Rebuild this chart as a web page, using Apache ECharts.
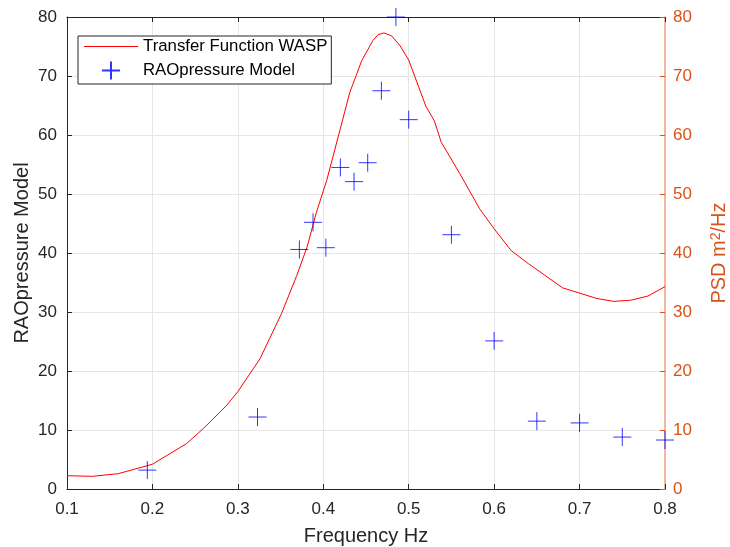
<!DOCTYPE html>
<html>
<head>
<meta charset="utf-8">
<script src="https://cdn.jsdelivr.net/npm/echarts@6/dist/echarts.min.js"></script>
<style>
  html, body { margin: 0; padding: 0; background: #fff; }
  #chart { width: 730px; height: 547px; }
</style>
</head>
<body>
<div id="chart"></div>
<script>
// Transfer function (PSD, right axis): frequency / value pairs
const tfFreq = [0.10, 0.13, 0.16, 0.20, 0.24, 0.26, 0.287, 0.30, 0.326, 0.351, 0.369, 0.381, 0.392, 0.404, 0.418, 0.431, 0.445, 0.458, 0.464, 0.471, 0.48, 0.49, 0.50, 0.52, 0.53, 0.538, 0.56, 0.583, 0.60, 0.62, 0.64, 0.68, 0.70, 0.72, 0.74, 0.76, 0.78, 0.80];
const tfPsd  = [2.25, 2.15, 2.6, 4.2, 7.7, 10.3, 14.2, 16.5, 22.1, 29.7, 36.2, 41.0, 46.9, 52.3, 60.0, 67.2, 72.6, 76.0, 77.0, 77.3, 76.8, 75.1, 72.7, 64.9, 62.4, 58.8, 53.4, 47.5, 44.1, 40.4, 38.2, 34.1, 33.2, 32.3, 31.8, 32.0, 32.7, 34.3];

// RAO pressure model samples (left axis)
const raoFreq = [0.194, 0.323, 0.372, 0.388, 0.403, 0.420, 0.436, 0.452, 0.468, 0.485, 0.500, 0.550, 0.600, 0.650, 0.700, 0.750, 0.800];
const raoVal  = [3.2, 12.2, 40.6, 45.2, 40.9, 54.5, 52.1, 55.3, 67.5, 80.0, 62.6, 43.1, 25.1, 11.5, 11.2, 8.8, 8.3];

const xTicks = [0.1, 0.2, 0.3, 0.4, 0.5, 0.6, 0.7, 0.8];
const yTicks = [0, 10, 20, 30, 40, 50, 60, 70, 80];

const FONT = 'Liberation Sans, Arial, Helvetica, sans-serif';
const AX = '#262626';
const OR = '#D95319';

const chart = echarts.init(document.getElementById('chart'), null, { renderer: 'canvas' });

// plus-shaped marker and a thin bar used as the line swatch in the legend
const plus = 'path://M0,-10L0,10M-10,0L10,0';
const lineSwatch = 'path://M0,0L54,0L54,1.1L0,1.1Z';

chart.setOption({
  animation: false,
  backgroundColor: '#fff',
  textStyle: { fontFamily: FONT },
  grid: { left: 67, right: 65, top: 17, bottom: 58, containLabel: false, outerBoundsMode: 'none' },
  legend: {
    left: 78, top: 36,
    orient: 'vertical',
    backgroundColor: '#fff',
    borderColor: AX,
    borderWidth: 1,
    borderRadius: 0,
    padding: [2, 4, 2, 6],
    itemGap: 4,
    itemWidth: 54,
    itemHeight: 18,
    symbolKeepAspect: true,
    textStyle: { fontFamily: FONT, fontSize: 16.8, color: '#000' },
    data: [
      { name: 'Transfer Function WASP', icon: lineSwatch },
      { name: 'RAOpressure Model' }
    ]
  },
  xAxis: [{
    type: 'value',
    min: xTicks[0], max: xTicks[xTicks.length - 1], interval: 0.1,
    name: 'Frequency Hz', nameLocation: 'middle', nameGap: 37, nameMoveOverlap: false,
    nameTextStyle: { fontFamily: FONT, fontSize: 20, color: AX },
    axisLine: { show: true, onZero: false, lineStyle: { color: AX, width: 1 } },
    axisTick: { show: true, inside: true, length: 5, lineStyle: { color: AX } },
    axisLabel: { fontFamily: FONT, fontSize: 17, color: AX, margin: 12, formatter: v => v.toFixed(1) },
    splitLine: { show: true, lineStyle: { color: '#e6e6e6', width: 1 } }
  }, {
    type: 'value', position: 'top',
    min: xTicks[0], max: xTicks[xTicks.length - 1], interval: 0.1,
    axisLine: { show: true, onZero: false, lineStyle: { color: AX, width: 1 } },
    axisTick: { show: true, inside: true, length: 5, lineStyle: { color: AX } },
    axisLabel: { show: false },
    splitLine: { show: false }
  }],
  yAxis: [{
    type: 'value', position: 'left',
    min: yTicks[0], max: yTicks[yTicks.length - 1], interval: 10,
    name: 'RAOpressure Model', nameLocation: 'middle', nameGap: 35, nameRotate: 90, nameMoveOverlap: false,
    nameTextStyle: { fontFamily: FONT, fontSize: 20, color: AX },
    axisLine: { show: true, onZero: false, lineStyle: { color: AX, width: 1 } },
    axisTick: { show: true, inside: true, length: 5, lineStyle: { color: AX } },
    axisLabel: { fontFamily: FONT, fontSize: 17, color: AX, margin: 10 },
    splitLine: { show: true, lineStyle: { color: '#e6e6e6', width: 1 } }
  }, {
    type: 'value', position: 'right',
    min: yTicks[0], max: yTicks[yTicks.length - 1], interval: 10,
    name: 'PSD m{s|2}/Hz', nameLocation: 'middle', nameGap: 44, nameRotate: 90, nameMoveOverlap: false,
    nameTextStyle: {
      fontFamily: FONT, fontSize: 20, color: OR,
      rich: { s: { fontFamily: FONT, fontSize: 14, color: OR, verticalAlign: 'top', lineHeight: 14 } }
    },
    axisLine: { show: true, onZero: false, lineStyle: { color: '#f0a27e', width: 1.5 } },
    axisTick: { show: true, inside: true, length: 5, lineStyle: { color: OR } },
    axisLabel: { fontFamily: FONT, fontSize: 17, color: OR, margin: 8 },
    splitLine: { show: false }
  }],
  series: [{
    name: 'Transfer Function WASP',
    type: 'line',
    xAxisIndex: 0, yAxisIndex: 1,
    data: tfFreq.map((f, i) => [f, tfPsd[i]]),
    symbol: 'none', showSymbol: false,
    lineStyle: { color: '#ff0000', width: 1 },
    itemStyle: { color: '#ff0000' },
    z: 2
  }, {
    name: 'RAOpressure Model',
    type: 'scatter',
    xAxisIndex: 0, yAxisIndex: 0,
    data: raoFreq.map((f, i) => [f, raoVal[i]]),
    symbol: plus, symbolSize: 18, symbolKeepAspect: true,
    itemStyle: { color: 'none', borderColor: '#0000ff', borderWidth: 1 },
    clip: false,
    z: 3
  }]
});
</script>
</body>
</html>
